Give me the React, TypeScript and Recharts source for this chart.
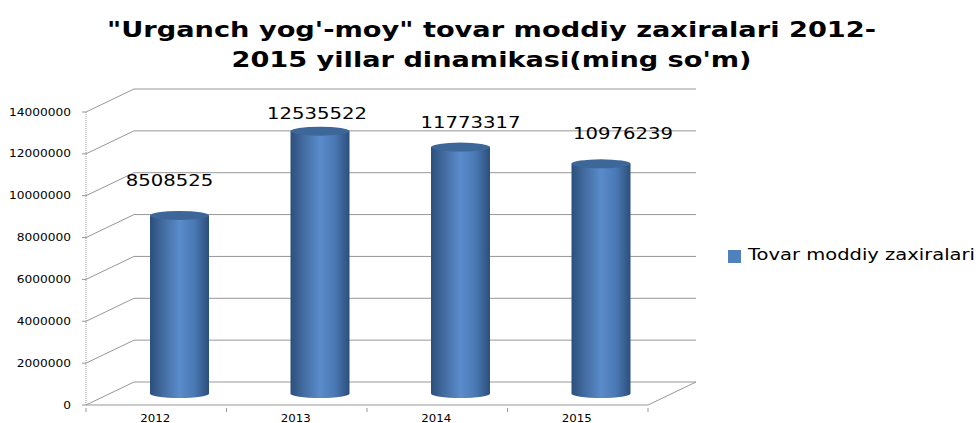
import React from 'react';
import { BarChart, Bar, XAxis, YAxis, CartesianGrid, Legend, LabelList } from 'recharts';

const years = ['2012', '2013', '2014', '2015'];
const stocks = [8508525, 12535522, 11773317, 10976239];
const yTicks = [0, 2000000, 4000000, 6000000, 8000000, 10000000, 12000000, 14000000];
const titleLines = ['"Urganch yog\'-moy" tovar moddiy zaxiralari 2012-', "2015 yillar dinamikasi(ming so'm)"];
const seriesName = 'Tovar moddiy zaxiralari';

const data = years.map((year, i) => ({ year, stock: stocks[i] }));

const FONT = '"DejaVu Sans", Verdana, sans-serif';
const DEPTH_X = 48;
const DEPTH_Y = 23;
const BAND = 140.5;
const GRID = '#979797';

// the original text is stretched sideways, so widths are forced with textLength
const titleWidths = [769, 520];
const labelShift = [
    { dx: -10, y: 181 },
    { dx: -3, y: 114 },
    { dx: 10, y: 123 },
    { dx: 22, y: 134 },
];

// the 3d walls: every gridline runs up the side wall and along the back wall
const WallLine = ({ x1, y1, x2 }: any) => (
    <g fill='none' stroke={GRID} strokeWidth={1}>
        <polyline points={`${x1},${y1} ${x1 + DEPTH_X},${y1 - DEPTH_Y} ${x2 + DEPTH_X},${y1 - DEPTH_Y}`} />
        {Math.abs(y1 - 405) < 1 && <line x1={x2} y1={y1} x2={x2 + DEPTH_X} y2={y1 - DEPTH_Y} />}
    </g>
);

const Cylinder = ({ x, y, width, height }: any) => {
    const left = x + DEPTH_X / 2 - 1;
    const top = y - DEPTH_Y / 2;
    const bottom = top + height;
    const rx = width / 2;
    const ry = 4.5;
    return (
        <g>
            <path
                d={`M${left},${top} L${left},${bottom} A${rx},${ry} 0 0 0 ${left + width},${bottom} L${left + width},${top} Z`}
                fill='url(#cylinderBody)'
            />
            <ellipse cx={left + rx} cy={top} rx={rx} ry={ry} fill='#3d6798' />
        </g>
    );
};

const ValueLabel = ({ x, width, value, index }: any) => {
    const shift = labelShift[index];
    return (
        <text
            x={x + width / 2 + DEPTH_X / 2 - 1 + shift.dx}
            y={shift.y}
            textAnchor='middle'
            dominantBaseline='central'
            fontFamily={FONT}
            fontSize={15}
            fill='#000'
            textLength={String(value).length * 12.5}
            lengthAdjust='spacingAndGlyphs'
        >
            {value}
        </text>
    );
};

const YearTick = ({ x, y, payload, index }: any) => (
    <g>
        <line x1={x + BAND / 2} y1={y - 5} x2={x + BAND / 2} y2={y - 1} stroke={GRID} />
        {index === 0 && <line x1={x - BAND / 2} y1={y - 5} x2={x - BAND / 2} y2={y - 1} stroke={GRID} />}
        <text
            x={x - 1}
            y={y + 9}
            textAnchor='middle'
            fontFamily={FONT}
            fontSize={10}
            fill='#000'
            textLength={30}
            lengthAdjust='spacingAndGlyphs'
        >
            {payload.value}
        </text>
    </g>
);

const ValueTick = ({ x, y, payload }: any) => (
    <text
        x={x}
        y={y}
        textAnchor='end'
        dominantBaseline='central'
        fontFamily={FONT}
        fontSize={10}
        fill='#000'
        textLength={String(payload.value).length * 7.75}
        lengthAdjust='spacingAndGlyphs'
    >
        {payload.value}
    </text>
);

export default function App() {
    return (
        <div style={{ position: 'absolute', left: 0, top: 0, width: 980, height: 423, background: '#fff' }}>
            <BarChart
                width={980}
                height={423}
                data={data}
                margin={{ top: 112, right: 80, bottom: 0, left: 0 }}
                barCategoryGap={0}
            >
                <defs>
                    <linearGradient id='cylinderBody' x1='0' y1='0' x2='1' y2='0'>
                        <stop offset='0' stopColor='#2c4f7c' />
                        <stop offset='0.2' stopColor='#41699d' />
                        <stop offset='0.5' stopColor='#5a8bcb' />
                        <stop offset='0.75' stopColor='#4a79b4' />
                        <stop offset='1' stopColor='#2c4f7c' />
                    </linearGradient>
                </defs>
                {titleLines.map((line, i) => (
                    <text
                        key={line}
                        x={491.5}
                        y={30 + i * 30}
                        textAnchor='middle'
                        dominantBaseline='central'
                        fontFamily={FONT}
                        fontWeight='bold'
                        fontSize={21}
                        fill='#000'
                        textLength={titleWidths[i]}
                        lengthAdjust='spacingAndGlyphs'
                    >
                        {line}
                    </text>
                ))}
                <CartesianGrid vertical={false} horizontal={(props: any) => <WallLine key={props.key} {...props} />} />
                <XAxis
                    dataKey='year'
                    height={18}
                    stroke={GRID}
                    tickLine={false}
                    tick={<YearTick />}
                    interval={0}
                />
                <YAxis
                    width={86}
                    domain={[0, 14000000]}
                    ticks={yTicks}
                    stroke={GRID}
                    axisLine={{ stroke: GRID, strokeDasharray: '1 1' }}
                    tickSize={4}
                    tickMargin={11}
                    interval={0}
                    tick={<ValueTick />}
                />
                <Bar
                    dataKey='stock'
                    name={seriesName}
                    fill='#4f81bd'
                    barSize={59}
                    shape={<Cylinder />}
                    isAnimationActive={false}
                >
                    <LabelList dataKey='stock' content={<ValueLabel />} />
                </Bar>
                <Legend
                    layout='vertical'
                    align='right'
                    verticalAlign='middle'
                    width={252}
                    iconType='square'
                    iconSize={13}
                    wrapperStyle={{ position: 'absolute', left: 728, top: 246, width: 252, height: 20 }}
                    formatter={(value: string) => (
                        <span
                            style={{
                                color: '#000',
                                fontFamily: FONT,
                                fontSize: 15,
                                display: 'inline-block',
                                whiteSpace: 'nowrap',
                                marginLeft: 3,
                                transform: 'scaleX(1.3)',
                                transformOrigin: 'left center',
                            }}
                        >
                            {value}
                        </span>
                    )}
                />
            </BarChart>
        </div>
    );
}
